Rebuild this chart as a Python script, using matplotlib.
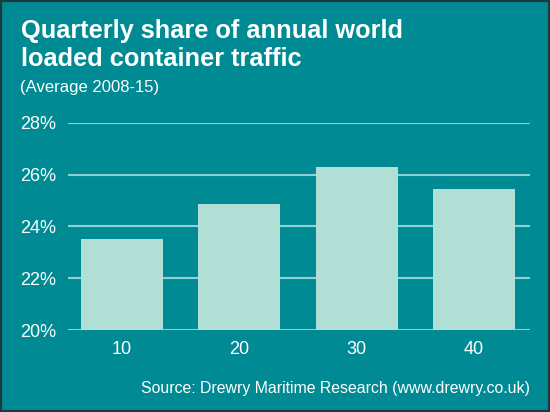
import matplotlib.pyplot as plt
from matplotlib.patches import Rectangle

quarters = ["10", "20", "30", "40"]
share = [23.5, 24.87, 26.28, 25.44]
yticks = [20, 22, 24, 26, 28]

teal = "#008a93"
bar_col = "#b2dfd5"
grid_col = "#8fd0d3"

plt.rcParams["font.family"] = ["Liberation Sans", "DejaVu Sans"]

fig = plt.figure(figsize=(5.5, 4.12), dpi=100)
fig.patch.set_facecolor(teal)
# thin dark frame round the panel
fig.patches.append(Rectangle((0, 0), 1, 1, transform=fig.transFigure,
                             fill=False, edgecolor="#1d3b3d", linewidth=3))

ax = fig.add_axes([0.123, 0.199, 0.8405, 0.5025])
ax.set_facecolor(teal)

x = range(len(quarters))
ax.bar(x, share, width=0.70, color=bar_col, zorder=3)
ax.set_ylim(20, 28)
ax.set_xlim(-0.463, 3.477)
ax.set_yticks(yticks)
ax.set_yticklabels([f"{t}%" for t in yticks])
ax.set_xticks(list(x))
ax.set_xticklabels(quarters)

ax.grid(axis="y", color=grid_col, linewidth=1.5, zorder=1)
ax.set_axisbelow(True)
for s in ax.spines.values():
    s.set_visible(False)
ax.tick_params(axis="both", length=0, colors="white", labelsize=13)
ax.tick_params(axis="y", pad=8)
ax.tick_params(axis="x", pad=8)

fig.text(0.038, 0.908, "Quarterly share of annual world", color="white",
         fontsize=18.3, fontweight="bold", va="baseline")
fig.text(0.038, 0.84, "loaded container traffic", color="white",
         fontsize=18.3, fontweight="bold", va="baseline")
fig.text(0.036, 0.777, "(Average 2008-15)", color="white",
         fontsize=12, va="baseline")
fig.text(0.963, 0.045, "Source: Drewry Maritime Research (www.drewry.co.uk)",
         color="white", fontsize=11.4, ha="right", va="baseline")

fig.savefig("out.png", dpi=100, facecolor=teal)
